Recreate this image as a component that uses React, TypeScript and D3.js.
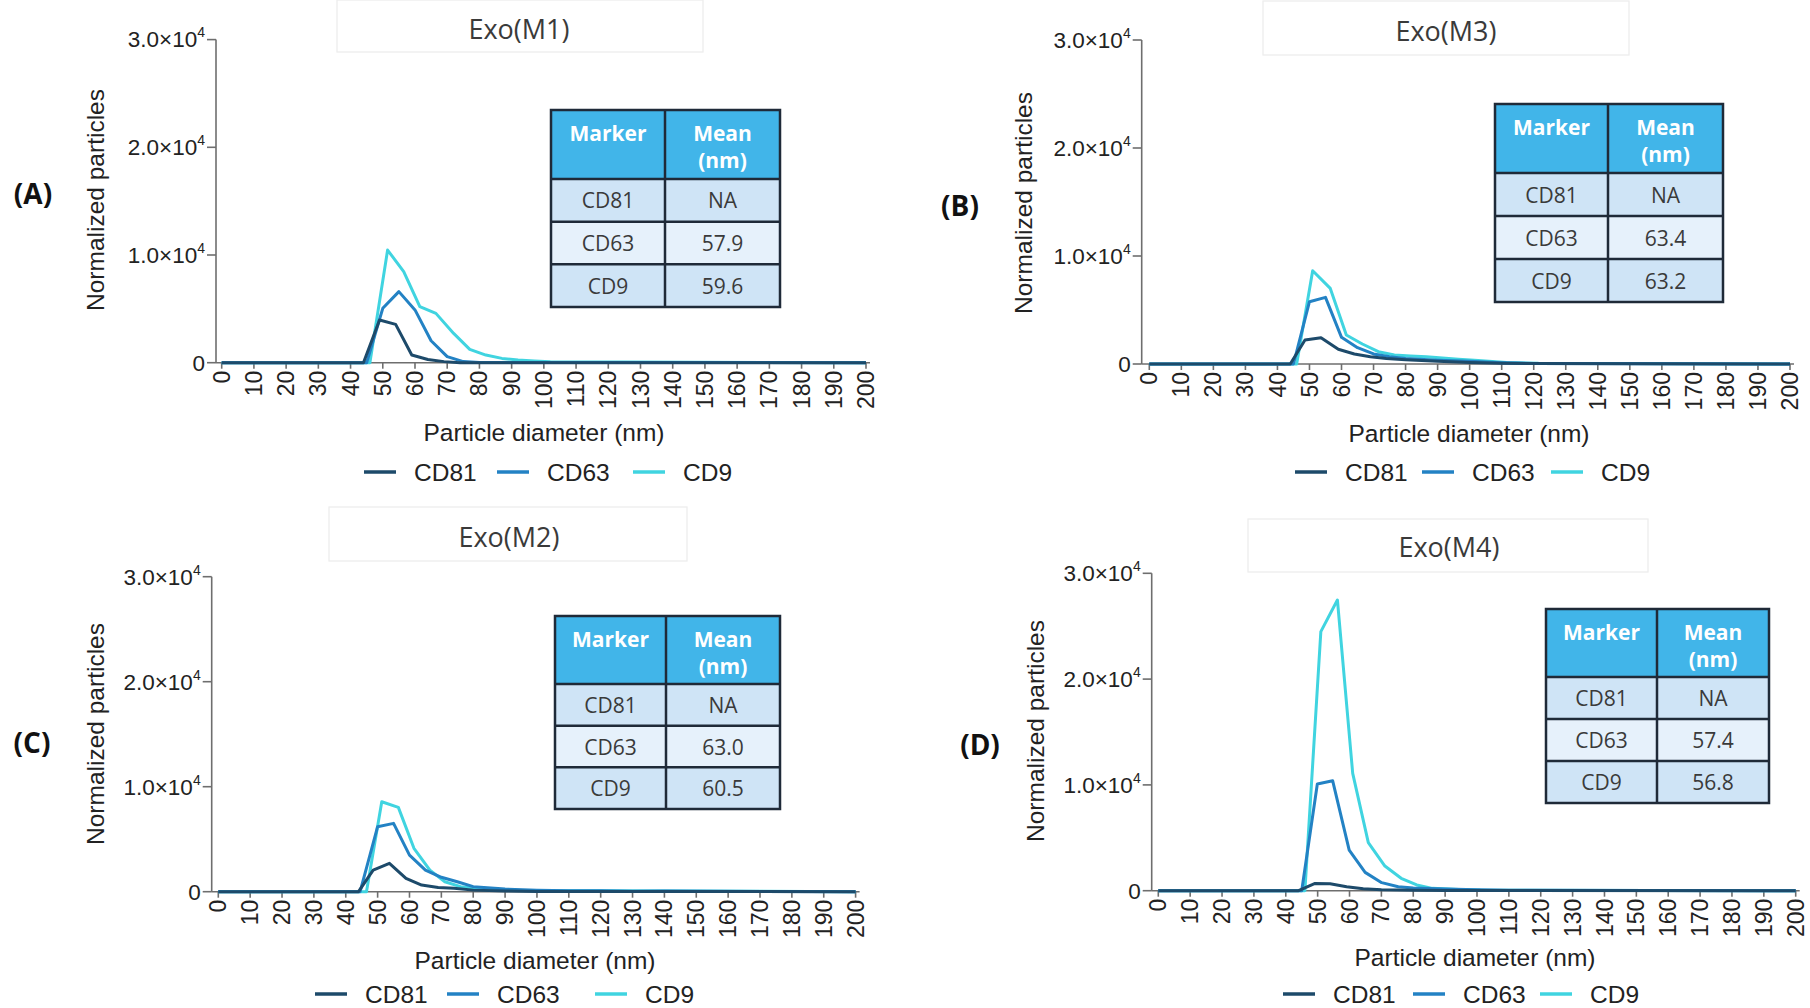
import React from 'react';
import * as d3 from 'd3';

// ---- shared labels ----
const markers = ['CD81', 'CD63', 'CD9'];
const markerColors = ['#1d4a6a', '#2382c4', '#40d4e0'];
const xTicks = [0, 10, 20, 30, 40, 50, 60, 70, 80, 90, 100, 110, 120, 130, 140, 150, 160, 170, 180, 190, 200];
const yTicks = [0, 10000, 20000, 30000];
const yTickLabels = ['0', '1.0×10', '2.0×10', '3.0×10'];

// ---- Exo(M1) ----
const m1Cd81X = [0, 44, 49, 54, 59, 64, 69, 74, 200];
const m1Cd81Y = [0, 0, 3960, 3560, 710, 300, 100, 0, 0];
const m1Cd63X = [0, 45, 50, 55, 60, 65, 70, 75, 80, 200];
const m1Cd63Y = [0, 0, 5050, 6600, 4900, 2040, 560, 100, 30, 0];
const m1Cd9X = [0, 46, 51.5, 56.5, 61.5, 66.5, 72, 77, 82, 87, 92, 97, 102, 200];
const m1Cd9Y = [0, 0, 10460, 8450, 5200, 4580, 2720, 1240, 710, 400, 250, 150, 80, 0];
const m1Means = ['NA', '57.9', '59.6'];

// ---- Exo(M3) ----
const m3Cd81X = [0, 44, 48.6, 53.6, 59, 64, 69, 74, 80, 90, 100, 110, 120, 200];
const m3Cd81Y = [0, 0, 2220, 2440, 1360, 930, 680, 520, 400, 250, 150, 80, 40, 0];
const m3Cd63X = [0, 45, 50, 55, 60, 65, 70, 75, 80, 90, 100, 110, 120, 200];
const m3Cd63Y = [0, 0, 5770, 6170, 2470, 1510, 930, 680, 500, 350, 250, 120, 50, 0];
const m3Cd9X = [0, 46, 51, 56.5, 61.5, 66.5, 71.5, 76.5, 81.5, 86.5, 91.5, 96.5, 101.5, 111.5, 121.5, 200];
const m3Cd9Y = [0, 0, 8640, 7000, 2690, 1850, 1140, 830, 750, 680, 550, 450, 350, 150, 60, 0];
const m3Means = ['NA', '63.4', '63.2'];

// ---- Exo(M2) ----
const m2Cd81X = [0, 44, 48.6, 53.7, 58.9, 63.8, 69, 74, 80, 90, 100, 200];
const m2Cd81Y = [0, 0, 2060, 2700, 1270, 630, 410, 320, 150, 60, 30, 0];
const m2Cd63X = [0, 44.5, 50, 55, 60, 65, 70, 75, 80, 90, 100, 110, 120, 130, 140, 200];
const m2Cd63Y = [0, 0, 6190, 6510, 3490, 2060, 1370, 950, 480, 250, 150, 100, 80, 50, 60, 0];
const m2Cd9X = [0, 46.5, 51.3, 56.5, 61.4, 66.4, 71.1, 76, 81, 86, 91, 200];
const m2Cd9Y = [0, 0, 8570, 8030, 4130, 2060, 950, 480, 300, 200, 120, 0];
const m2Means = ['NA', '63.0', '60.5'];

// ---- Exo(M4) ----
const m4Cd81X = [0, 44, 49.2, 53.9, 59.1, 64.3, 70, 75, 80, 90, 100, 200];
const m4Cd81Y = [0, 0, 690, 660, 380, 190, 100, 60, 40, 20, 10, 0];
const m4Cd63X = [0, 45, 49.9, 54.7, 59.9, 64.9, 70.1, 75.3, 80, 90, 100, 110, 200];
const m4Cd63Y = [0, 0, 10090, 10400, 3840, 1730, 760, 380, 250, 150, 100, 50, 0];
const m4Cd9X = [0, 46, 51, 56.2, 61, 65.9, 71.1, 76.2, 81.1, 86, 91, 96, 101, 200];
const m4Cd9Y = [0, 0, 24490, 27480, 11090, 4540, 2330, 1170, 540, 220, 150, 100, 60, 0];
const m4Means = ['NA', '57.4', '56.8'];

const zip = (xs, ys) => xs.map((x, i) => [x, ys[i]]);

const panels = [
  {
    title: 'Exo(M1)', letter: '(A)', means: m1Means,
    series: [zip(m1Cd81X, m1Cd81Y), zip(m1Cd63X, m1Cd63Y), zip(m1Cd9X, m1Cd9Y)],
    axisX: 216, x0: 221.7, x1: 866, y0: 362.7, y1: 39.6,
    letterPos: [33, 193], yLabelPos: [95, 200], xTitlePos: [544, 432],
    titlePos: [519, 28], titleBox: [337, 0, 703, 52],
    table: [551, 110, 780, 307, 179, 665],
    legendY: 472, legendX: [364, 497, 633],
  },
  {
    title: 'Exo(M3)', letter: '(B)', means: m3Means,
    series: [zip(m3Cd81X, m3Cd81Y), zip(m3Cd63X, m3Cd63Y), zip(m3Cd9X, m3Cd9Y)],
    axisX: 1141.7, x0: 1149.3, x1: 1790, y0: 364, y1: 40,
    letterPos: [960, 205], yLabelPos: [1023, 203], xTitlePos: [1469, 433],
    titlePos: [1446, 30], titleBox: [1263, 1, 1629, 55],
    table: [1495, 104, 1723, 302, 173, 1608],
    legendY: 472, legendX: [1295, 1422, 1551],
  },
  {
    title: 'Exo(M2)', letter: '(C)', means: m2Means,
    series: [zip(m2Cd81X, m2Cd81Y), zip(m2Cd63X, m2Cd63Y), zip(m2Cd9X, m2Cd9Y)],
    axisX: 211.7, x0: 218.3, x1: 855.6, y0: 891.7, y1: 576.7,
    letterPos: [32, 742], yLabelPos: [95, 734], xTitlePos: [535, 960],
    titlePos: [509, 536], titleBox: [329, 507, 687, 561],
    table: [555, 616, 780, 809, 684, 666],
    legendY: 994, legendX: [315, 447, 595],
  },
  {
    title: 'Exo(M4)', letter: '(D)', means: m4Means,
    series: [zip(m4Cd81X, m4Cd81Y), zip(m4Cd63X, m4Cd63Y), zip(m4Cd9X, m4Cd9Y)],
    axisX: 1151.7, x0: 1158.3, x1: 1795.7, y0: 890.7, y1: 573.3,
    letterPos: [980, 744], yLabelPos: [1035, 731], xTitlePos: [1475, 957],
    titlePos: [1449, 546], titleBox: [1248, 519, 1648, 572],
    table: [1546, 609, 1769, 803, 677, 1657],
    legendY: 994, legendX: [1283, 1413, 1540],
  },
];

const axisFont = '"Liberation Sans", Arial, sans-serif';
const tableFont = '"Open Sans", "Noto Sans", sans-serif';
const axisColor = '#6e6e6e';

function Table({ p }) {
  const [left, top, right, bottom, headBottom, divider] = p.table;
  const rowH = (bottom - headBottom) / 3;
  const rowFills = ['#cfe4f6', '#e6f1fb', '#cfe4f6'];
  const leftMid = (left + divider) / 2;
  const rightMid = (divider + right) / 2;
  return (
    <g fontFamily={tableFont}>
      <rect x={left} y={top} width={right - left} height={headBottom - top} fill="#41b5e9" />
      {rowFills.map((f, i) => (
        <rect key={i} x={left} y={headBottom + i * rowH} width={right - left} height={rowH} fill={f} />
      ))}
      <text x={leftMid} y={top + 23} textAnchor="middle" dominantBaseline="central" fill="#fff" fontWeight="bold" fontSize={21}>Marker</text>
      <text x={rightMid} y={top + 23} textAnchor="middle" dominantBaseline="central" fill="#fff" fontWeight="bold" fontSize={21}>Mean</text>
      <text x={rightMid} y={top + 50} textAnchor="middle" dominantBaseline="central" fill="#fff" fontWeight="bold" fontSize={21}>(nm)</text>
      {markers.map((m, i) => (
        <g key={m}>
          <text x={leftMid} y={headBottom + (i + 0.5) * rowH} textAnchor="middle" dominantBaseline="central" fill="#3a3a3a" fontSize={21}>{m}</text>
          <text x={rightMid} y={headBottom + (i + 0.5) * rowH} textAnchor="middle" dominantBaseline="central" fill="#3a3a3a" fontSize={21}>{p.means[i]}</text>
        </g>
      ))}
      {[1, 2].map(i => (
        <line key={i} x1={left} x2={right} y1={headBottom + i * rowH} y2={headBottom + i * rowH} stroke="#1f2a38" strokeWidth={2.5} />
      ))}
      <line x1={left} x2={right} y1={headBottom} y2={headBottom} stroke="#1f2a38" strokeWidth={2.5} />
      <line x1={divider} x2={divider} y1={top} y2={bottom} stroke="#1f2a38" strokeWidth={2.5} />
      <rect x={left} y={top} width={right - left} height={bottom - top} fill="none" stroke="#1f2a38" strokeWidth={2.5} />
    </g>
  );
}

function Panel({ p }) {
  const x = d3.scaleLinear().domain([0, 200]).range([p.x0, p.x1]);
  const y = d3.scaleLinear().domain([0, 30000]).range([p.y0, p.y1]);
  const line = d3.line().x(d => x(d[0])).y(d => y(d[1]));
  const [bx0, by0, bx1, by1] = p.titleBox;
  // draw CD9 first, CD81 last so the darker lines sit on top
  const order = [2, 1, 0];
  return (
    <g>
      <rect x={bx0} y={by0} width={bx1 - bx0} height={by1 - by0} fill="none" stroke="#ececec" strokeWidth={1.2} />
      <text x={p.titlePos[0]} y={p.titlePos[1]} textAnchor="middle" dominantBaseline="central" fontFamily={tableFont} fontSize={27} fill="#3a3a3a">{p.title}</text>
      <text x={p.letterPos[0]} y={p.letterPos[1]} textAnchor="middle" dominantBaseline="central" fontFamily={tableFont} fontWeight="bold" fontSize={28} fill="#111">{p.letter}</text>
      <text transform={`translate(${p.yLabelPos[0]},${p.yLabelPos[1]}) rotate(-90)`} textAnchor="middle" dominantBaseline="central" fontFamily={axisFont} fontSize={24.5} fill="#222">Normalized particles</text>

      {/* y axis */}
      <line x1={p.axisX} x2={p.axisX} y1={y(30000)} y2={y(0)} stroke={axisColor} strokeWidth={1.6} />
      {yTicks.map((t, i) => (
        <g key={t}>
          <line x1={p.axisX - 9} x2={p.axisX} y1={y(t)} y2={y(t)} stroke={axisColor} strokeWidth={1.6} />
          <text x={p.axisX - 11} y={y(t)} dy="0.35em" textAnchor="end" fontFamily={axisFont} fontSize={22.5} fill="#222">
            {yTickLabels[i]}
            {t > 0 && <tspan dy={-10} fontSize={14}>4</tspan>}
          </text>
        </g>
      ))}

      {/* x axis */}
      <line x1={p.axisX} x2={x(200) + 4} y1={y(0)} y2={y(0)} stroke={axisColor} strokeWidth={1.6} />
      {xTicks.map(t => (
        <g key={t}>
          <line x1={x(t)} x2={x(t)} y1={y(0)} y2={y(0) + 6} stroke={axisColor} strokeWidth={1.6} />
          <text transform={`translate(${x(t)},${y(0) + 8}) rotate(-90)`} dy="0.35em" textAnchor="end" fontFamily={axisFont} fontSize={23} fill="#222">{t}</text>
        </g>
      ))}
      <text x={p.xTitlePos[0]} y={p.xTitlePos[1]} textAnchor="middle" dominantBaseline="central" fontFamily={axisFont} fontSize={24.5} fill="#222">Particle diameter (nm)</text>

      {/* series */}
      {order.map(i => (
        <path key={i} d={line(p.series[i])} fill="none" stroke={markerColors[i]} strokeWidth={3} strokeLinejoin="round" />
      ))}

      <Table p={p} />

      {/* legend */}
      {markers.map((m, i) => (
        <g key={m}>
          <line x1={p.legendX[i]} x2={p.legendX[i] + 32} y1={p.legendY} y2={p.legendY} stroke={markerColors[i]} strokeWidth={3.5} />
          <text x={p.legendX[i] + 50} y={p.legendY} dominantBaseline="central" fontFamily={axisFont} fontSize={24.5} fill="#222">{m}</text>
        </g>
      ))}
    </g>
  );
}

export default function App() {
  return (
    <svg width={1810} height={1008} style={{ position: 'absolute', left: 0, top: 0, background: '#fff' }}>
      <rect width={1810} height={1008} fill="#fff" />
      {panels.map(p => <Panel key={p.title} p={p} />)}
    </svg>
  );
}
